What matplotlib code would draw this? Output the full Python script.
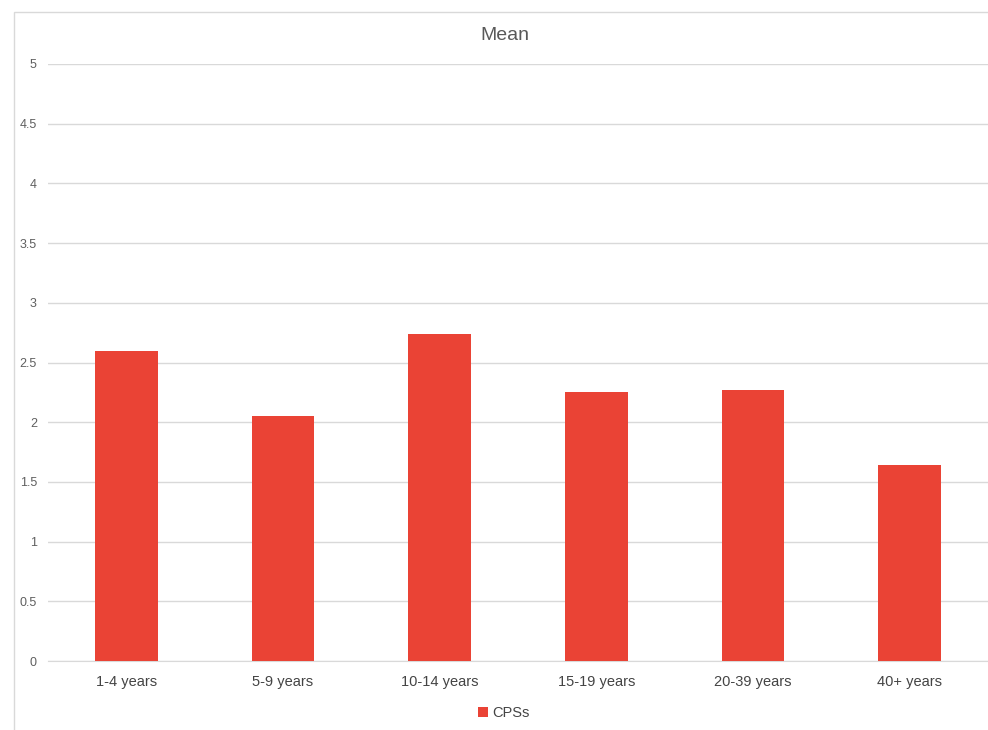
import matplotlib
matplotlib.use("Agg")
import matplotlib.pyplot as plt
from matplotlib.patches import Rectangle
import numpy as np

categories = ["1-4 years", "5-9 years", "10-14 years", "15-19 years", "20-39 years", "40+ years"]
cps_mean = [2.6, 2.05, 2.74, 2.25, 2.27, 1.64]
y_ticks = [0, 0.5, 1, 1.5, 2, 2.5, 3, 3.5, 4, 4.5, 5]
y_labels = ["0", "0.5", "1", "1.5", "2", "2.5", "3", "3.5", "4", "4.5", "5"]

plt.rcParams['font.family'] = ['Liberation Sans', 'DejaVu Sans']

fig = plt.figure(figsize=(9.88, 7.3), dpi=100)
ax = fig.add_axes([48 / 988, 1 - 661 / 730, 940 / 988, 597 / 730])

# chart frame
fig.patches.append(Rectangle((14 / 988, -0.1), 2, (730 - 12) / 730 + 0.1,
                             transform=fig.transFigure, fill=False,
                             edgecolor="#d9d9d9", lw=1))

x = np.arange(len(categories))
ax.bar(x, cps_mean, width=0.4, color="#ea4335", label="CPSs", zorder=3)

ax.set_xlim(-0.5, len(categories) - 0.5)
ax.set_ylim(0, 5)
ax.set_yticks(y_ticks)
ax.set_yticklabels(y_labels)
ax.set_xticks(x)
ax.set_xticklabels(categories)
ax.yaxis.grid(True, color="#d9d9d9", lw=1)
ax.set_axisbelow(True)
for s in ["top", "right", "left"]:
    ax.spines[s].set_visible(False)
ax.spines["bottom"].set_color("#d9d9d9")
ax.tick_params(axis="y", length=0, pad=8, labelsize=9, labelcolor="#5f5f5f")
ax.tick_params(axis="x", length=0, pad=10, labelsize=10.5, labelcolor="#444444")

fig.text(0.511, 1 - 36 / 730, "Mean", ha="center", va="center", fontsize=14, color="#595959")

leg = fig.legend(loc="center", bbox_to_anchor=(0.51, 1 - 713 / 730), frameon=False,
                 fontsize=10.5, handlelength=0.7, handleheight=0.7, handletextpad=0.3)
for t in leg.get_texts():
    t.set_color("#444444")

plt.savefig("out.png", dpi=100)
